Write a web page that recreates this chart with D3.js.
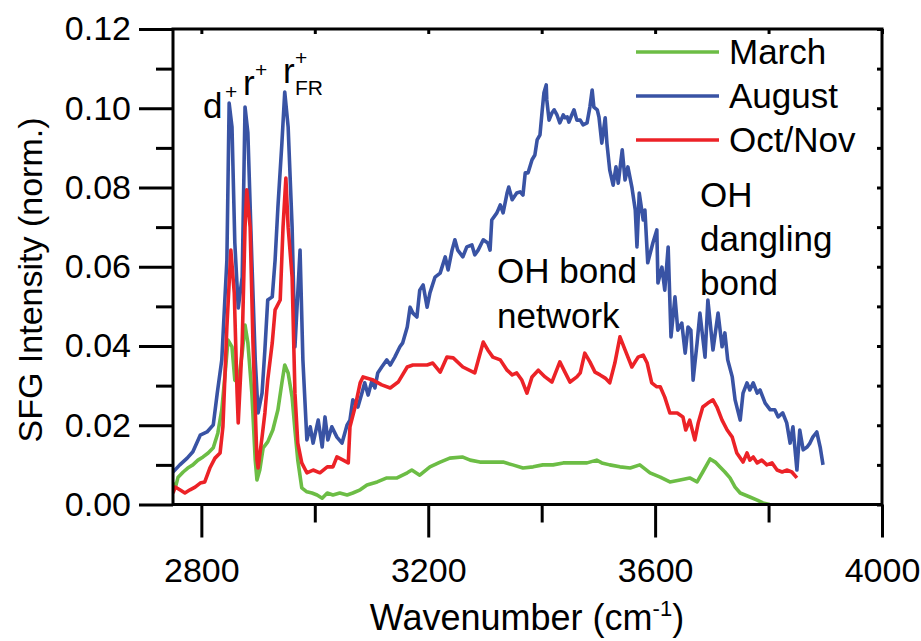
<!DOCTYPE html>
<html lang="en">

<head>
    <meta charset="UTF-8">
    <title>SFG spectra</title>

    <style>
        body {
            margin: 0;
            background-color: white;
        }

        #SVG text {
            font-family: "Liberation Sans", Arial, sans-serif;
            fill: black;
        }
    </style>
</head>

<body>
    <svg id="SVG"></svg>

    <script src="https://d3js.org/d3.v7.min.js"></script>

    <script>

        // ---------------- data ----------------

        var seriesNames = ["March", "August", "Oct/Nov"];

        var marchW = [2750, 2754, 2759, 2768, 2776, 2785, 2794, 2803, 2812, 2821, 2829, 2836, 2842, 2847, 2854, 2859,
            2865, 2872, 2877, 2882, 2889, 2895, 2898, 2903, 2909, 2917, 2926, 2935, 2942, 2947, 2953, 2960, 2965, 2970,
            2977, 2986, 2995, 3004, 3013, 3022, 3032, 3044, 3057, 3067, 3080, 3092, 3110, 3127, 3145, 3163, 3171, 3185,
            3203, 3221, 3238, 3260, 3274, 3291, 3309, 3332, 3349, 3367, 3385, 3402, 3420, 3438, 3455, 3480, 3497, 3506,
            3520, 3538, 3556, 3573, 3591, 3609, 3626, 3644, 3661, 3674, 3684, 3697, 3706, 3714, 3723, 3732, 3741, 3750,
            3767, 3780, 3790, 3802];
        var marchI = [0.0054, 0.0042, 0.0069, 0.0082, 0.0092, 0.0100, 0.0112, 0.0120, 0.0130, 0.0143, 0.0180, 0.0239,
            0.0332, 0.0415, 0.0398, 0.0314, 0.0307, 0.0382, 0.0453, 0.0408, 0.0281, 0.0112, 0.0062, 0.0087, 0.0143,
            0.0158, 0.0188, 0.0239, 0.0307, 0.0352, 0.0332, 0.0271, 0.0188, 0.0112, 0.0042, 0.0032, 0.0029, 0.0024,
            0.0016, 0.0029, 0.0024, 0.0029, 0.0024, 0.0029, 0.0037, 0.0049, 0.0057, 0.0067, 0.0067, 0.0080, 0.0087,
            0.0074, 0.0095, 0.0107, 0.0117, 0.0120, 0.0112, 0.0107, 0.0107, 0.0107, 0.0100, 0.0092, 0.0095, 0.0100,
            0.0100, 0.0105, 0.0105, 0.0105, 0.0112, 0.0105, 0.0100, 0.0095, 0.0092, 0.0100, 0.0080, 0.0069, 0.0057,
            0.0062, 0.0067, 0.0057, 0.0082, 0.0115, 0.0107, 0.0095, 0.0082, 0.0067, 0.0044, 0.0029, 0.0019, 0.0011,
            0.0004, 0.0000];

        var augustW = [2750, 2762, 2775, 2785, 2798, 2810, 2821, 2828, 2836, 2845, 2849, 2854, 2859, 2865, 2872, 2877,
            2882, 2889, 2895, 2900, 2907, 2912, 2917, 2925, 2930, 2935, 2942, 2947, 2953, 2960, 2965, 2974, 2979, 2986,
            2992, 2997, 3006, 3013, 3018, 3023, 3030, 3039, 3048, 3057, 3062, 3067, 3076, 3083, 3088, 3094, 3101, 3106,
            3111, 3118, 3127, 3133, 3141, 3150, 3155, 3163, 3168, 3173, 3180, 3185, 3191, 3198, 3203, 3212, 3221, 3230,
            3235, 3242, 3247, 3252, 3261, 3268, 3277, 3282, 3288, 3297, 3305, 3309, 3312, 3321, 3327, 3332, 3339, 3342,
            3348, 3356, 3362, 3367, 3371, 3376, 3383, 3388, 3392, 3397, 3401, 3404, 3408, 3409, 3413, 3418, 3422, 3427,
            3432, 3438, 3441, 3445, 3448, 3453, 3457, 3462, 3468, 3473, 3480, 3485, 3489, 3492, 3498, 3501, 3506, 3512,
            3515, 3520, 3526, 3531, 3535, 3542, 3547, 3552, 3559, 3565, 3568, 3572, 3579, 3582, 3587, 3596, 3603, 3605,
            3612, 3617, 3623, 3628, 3635, 3640, 3647, 3653, 3658, 3663, 3667, 3674, 3679, 3688, 3693, 3702, 3711, 3718,
            3723, 3728, 3736, 3741, 3750, 3755, 3762, 3767, 3773, 3780, 3785, 3794, 3803, 3811, 3817, 3825, 3832, 3838,
            3843, 3850, 3855, 3861, 3868, 3873, 3878, 3885, 3891, 3896];
        var augustI = [0.0082, 0.0100, 0.0117, 0.0133, 0.0175, 0.0183, 0.0201, 0.0281, 0.0365, 0.0617, 0.1013, 0.0953,
            0.0660, 0.0496, 0.0574, 0.1003, 0.0938, 0.0617, 0.0365, 0.0231, 0.0281, 0.0390, 0.0516, 0.0524, 0.0617,
            0.0751, 0.0912, 0.1041, 0.0953, 0.0700, 0.0398, 0.0642, 0.0365, 0.0163, 0.0196, 0.0155, 0.0213, 0.0145,
            0.0221, 0.0163, 0.0196, 0.0170, 0.0155, 0.0201, 0.0213, 0.0264, 0.0246, 0.0281, 0.0307, 0.0276, 0.0314,
            0.0294, 0.0332, 0.0347, 0.0365, 0.0352, 0.0372, 0.0398, 0.0408, 0.0448, 0.0498, 0.0483, 0.0473, 0.0541,
            0.0554, 0.0498, 0.0534, 0.0574, 0.0584, 0.0625, 0.0592, 0.0642, 0.0668, 0.0642, 0.0625, 0.0650, 0.0655,
            0.0630, 0.0642, 0.0668, 0.0660, 0.0642, 0.0718, 0.0736, 0.0756, 0.0736, 0.0786, 0.0801, 0.0769, 0.0786,
            0.0789, 0.0781, 0.0837, 0.0837, 0.0870, 0.0882, 0.0920, 0.0933, 0.0996, 0.1039, 0.1059, 0.1021, 0.0970,
            0.0988, 0.0996, 0.0983, 0.0963, 0.0983, 0.0976, 0.0978, 0.0965, 0.0983, 0.0996, 0.0970, 0.0970, 0.0958,
            0.0963, 0.1003, 0.1046, 0.1003, 0.0996, 0.0978, 0.0912, 0.0976, 0.0912, 0.0844, 0.0806, 0.0852, 0.0811,
            0.0895, 0.0819, 0.0852, 0.0801, 0.0743, 0.0650, 0.0786, 0.0718, 0.0743, 0.0610, 0.0660, 0.0693, 0.0559,
            0.0599, 0.0541, 0.0650, 0.0423, 0.0524, 0.0440, 0.0458, 0.0382, 0.0448, 0.0440, 0.0314, 0.0408, 0.0483,
            0.0372, 0.0516, 0.0390, 0.0483, 0.0398, 0.0433, 0.0365, 0.0322, 0.0264, 0.0213, 0.0281, 0.0307, 0.0289,
            0.0307, 0.0281, 0.0289, 0.0256, 0.0239, 0.0239, 0.0221, 0.0231, 0.0206, 0.0155, 0.0196, 0.0087, 0.0188,
            0.0138, 0.0145, 0.0155, 0.0170, 0.0183, 0.0145, 0.0100];

        var octW = [2750, 2754, 2762, 2771, 2780, 2789, 2798, 2806, 2815, 2824, 2833, 2838, 2845, 2852, 2858, 2863,
            2865, 2872, 2877, 2880, 2886, 2891, 2898, 2900, 2907, 2912, 2917, 2925, 2930, 2939, 2944, 2949, 2953, 2960,
            2965, 2970, 2977, 2986, 2997, 3009, 3022, 3032, 3039, 3050, 3059, 3062, 3071, 3080, 3085, 3103, 3118, 3133,
            3147, 3163, 3173, 3198, 3208, 3221, 3233, 3244, 3261, 3282, 3297, 3305, 3314, 3327, 3339, 3348, 3356, 3365,
            3374, 3383, 3394, 3406, 3418, 3432, 3441, 3450, 3462, 3468, 3476, 3485, 3494, 3503, 3512, 3520, 3529, 3538,
            3547, 3559, 3570, 3579, 3586, 3594, 3603, 3609, 3617, 3626, 3639, 3649, 3654, 3661, 3670, 3676, 3684, 3693,
            3702, 3709, 3718, 3727, 3736, 3744, 3755, 3762, 3767, 3773, 3780, 3788, 3797, 3806, 3815, 3824, 3832, 3841,
            3850];
        var octI = [0.0029, 0.0044, 0.0037, 0.0029, 0.0037, 0.0044, 0.0054, 0.0057, 0.0092, 0.0117, 0.0130, 0.0196,
            0.0448, 0.0642, 0.0534, 0.0281, 0.0206, 0.0408, 0.0700, 0.0794, 0.0700, 0.0408, 0.0112, 0.0092, 0.0170,
            0.0231, 0.0314, 0.0408, 0.0491, 0.0516, 0.0700, 0.0824, 0.0700, 0.0574, 0.0281, 0.0155, 0.0105, 0.0080,
            0.0087, 0.0080, 0.0095, 0.0095, 0.0120, 0.0112, 0.0105, 0.0196, 0.0246, 0.0307, 0.0322, 0.0314, 0.0302,
            0.0294, 0.0309, 0.0347, 0.0352, 0.0352, 0.0357, 0.0334, 0.0372, 0.0370, 0.0347, 0.0332, 0.0410, 0.0390,
            0.0372, 0.0365, 0.0339, 0.0327, 0.0332, 0.0314, 0.0281, 0.0322, 0.0339, 0.0322, 0.0309, 0.0360, 0.0334,
            0.0309, 0.0322, 0.0332, 0.0382, 0.0360, 0.0334, 0.0327, 0.0319, 0.0307, 0.0357, 0.0423, 0.0390, 0.0347,
            0.0372, 0.0377, 0.0357, 0.0307, 0.0297, 0.0297, 0.0271, 0.0231, 0.0231, 0.0221, 0.0188, 0.0213, 0.0163,
            0.0206, 0.0246, 0.0256, 0.0264, 0.0246, 0.0213, 0.0188, 0.0170, 0.0130, 0.0107, 0.0130, 0.0112, 0.0120,
            0.0105, 0.0112, 0.0100, 0.0105, 0.0087, 0.0082, 0.0087, 0.0082, 0.0067];

        var xMajor = [2800, 3200, 3600, 4000];
        var xMinor = [3000, 3400, 3800];
        var yMajor = [0, 0.02, 0.04, 0.06, 0.08, 0.10, 0.12];
        var yMinor = [0.01, 0.03, 0.05, 0.07, 0.09, 0.11];

        // ---------------- layout ----------------

        var width = 921;
        var height = 641;
        var plot = { left: 173, top: 29, right: 882, bottom: 504.5 };
        var colors = ["#6cbd45", "#3953a4", "#ec2227"];

        var svg = d3.select("#SVG")
            .attr("width", width)
            .attr("height", height);

        var x = d3.scaleLinear().domain([2750, 4000]).range([plot.left, plot.right]);
        var y = d3.scaleLinear().domain([0, 0.12]).range([plot.bottom, plot.top]);

        var series = [
            d3.zip(marchW, marchI),
            d3.zip(augustW, augustI),
            d3.zip(octW, octI)
        ];

        svg.append("clipPath").attr("id", "plotClip")
            .append("rect")
            .attr("x", plot.left)
            .attr("y", plot.top - 2)
            .attr("width", plot.right - plot.left)
            .attr("height", plot.bottom - plot.top + 2);

        // ---------------- curves ----------------

        var line = d3.line()
            .x(d => x(d[0]))
            .y(d => y(d[1]));

        svg.append("g")
            .attr("clip-path", "url(#plotClip)")
            .selectAll("path")
            .data(series)
            .enter()
            .append("path")
            .attr("d", line)
            .attr("fill", "none")
            .attr("stroke", (d, i) => colors[i])
            .attr("stroke-width", 3.6)
            .attr("stroke-linejoin", "round");

        // ---------------- axes ----------------

        function styleAxis(g) {
            g.select(".domain").remove();
            g.selectAll(".tick line").attr("stroke", "black").attr("stroke-width", 3);
            g.selectAll(".tick text").attr("font-size", 34);
        }

        svg.append("g")
            .attr("transform", `translate(${plot.left},0)`)
            .call(d3.axisLeft(y).tickValues(yMajor).tickSize(34).tickPadding(8).tickFormat(d3.format(".2f")))
            .call(styleAxis);

        svg.append("g")
            .attr("transform", `translate(${plot.left},0)`)
            .call(d3.axisLeft(y).tickValues(yMinor).tickSize(17).tickFormat(""))
            .call(styleAxis);

        svg.append("g")
            .attr("transform", `translate(0,${plot.bottom})`)
            .call(d3.axisBottom(x).tickValues(xMajor).tickSize(33).tickPadding(20).tickFormat(d3.format("d")))
            .call(styleAxis);

        svg.append("g")
            .attr("transform", `translate(0,${plot.bottom})`)
            .call(d3.axisBottom(x).tickValues(xMinor).tickSize(18).tickFormat(""))
            .call(styleAxis);

        // small inner ticks on the top and right sides
        svg.append("g")
            .attr("transform", `translate(0,${plot.top})`)
            .call(d3.axisTop(x).tickValues(xMajor.concat(xMinor)).tickSize(-5).tickFormat(""))
            .call(styleAxis);

        svg.append("g")
            .attr("transform", `translate(${plot.right},0)`)
            .call(d3.axisLeft(y).tickValues(yMajor.concat(yMinor)).tickSize(5).tickFormat(""))
            .call(styleAxis);

        svg.append("rect")
            .attr("x", plot.left)
            .attr("y", plot.top)
            .attr("width", plot.right - plot.left)
            .attr("height", plot.bottom - plot.top)
            .attr("fill", "none")
            .attr("stroke", "black")
            .attr("stroke-width", 3);

        // axis titles
        var xTitle = svg.append("text")
            .attr("x", 527)
            .attr("y", 630)
            .attr("text-anchor", "middle")
            .attr("font-size", 36);
        xTitle.append("tspan").text("Wavenumber (cm");
        xTitle.append("tspan").attr("dy", -14).attr("font-size", 22).text("-1");
        xTitle.append("tspan").attr("dy", 14).text(")");

        svg.append("text")
            .attr("transform", "translate(42,280) rotate(-90)")
            .attr("text-anchor", "middle")
            .attr("font-size", 34)
            .text("SFG Intensity (norm.)");

        // ---------------- legend ----------------

        var legend = svg.append("g")
            .selectAll("g")
            .data(seriesNames)
            .enter()
            .append("g")
            .attr("transform", (d, i) => `translate(636,${52 + i * 44})`);

        legend.append("line")
            .attr("x1", 0)
            .attr("x2", 83)
            .attr("stroke", (d, i) => colors[i])
            .attr("stroke-width", 3.6);

        legend.append("text")
            .attr("x", 93)
            .attr("y", 12)
            .attr("font-size", 35)
            .text(d => d);

        // ---------------- peak labels ----------------

        var notes = svg.append("g");

        notes.append("text").attr("x", 203).attr("y", 118).attr("font-size", 35).text("d");
        notes.append("text").attr("x", 225).attr("y", 99).attr("font-size", 21).text("+");

        notes.append("text").attr("x", 243).attr("y", 95).attr("font-size", 35).text("r");
        notes.append("text").attr("x", 255).attr("y", 77).attr("font-size", 21).text("+");

        notes.append("text").attr("x", 283).attr("y", 83).attr("font-size", 35).text("r");
        notes.append("text").attr("x", 295).attr("y", 65).attr("font-size", 21).text("+");
        notes.append("text").attr("x", 295).attr("y", 95).attr("font-size", 21).text("FR");

        notes.append("text").attr("x", 497).attr("y", 283).attr("font-size", 35).text("OH bond");
        notes.append("text").attr("x", 497).attr("y", 328).attr("font-size", 35).text("network");

        notes.append("text").attr("x", 700).attr("y", 207).attr("font-size", 35).text("OH");
        notes.append("text").attr("x", 700).attr("y", 251).attr("font-size", 35).text("dangling");
        notes.append("text").attr("x", 700).attr("y", 295).attr("font-size", 35).text("bond");

    </script>
</body>

</html>
